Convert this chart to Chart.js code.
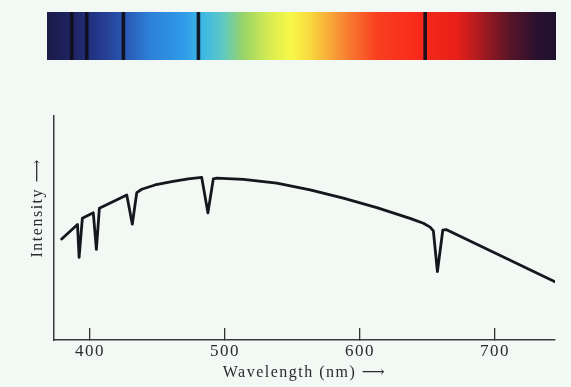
<!DOCTYPE html>
<html>
<head>
<meta charset="utf-8">
<script src="https://cdn.jsdelivr.net/npm/chart.js@4/dist/chart.umd.min.js"></script>
<style>
  html, body { margin: 0; padding: 0; background: #f2f8f4; }
  #wrap { position: relative; width: 571px; height: 387px; overflow: hidden; }
  #main { position: absolute; left: 0; top: 0; }
  #spec { position: absolute; left: 0; top: 0; }
</style>
</head>
<body>
<div id="wrap">
  <canvas id="main" width="571" height="387"></canvas>
  <canvas id="spec" width="571" height="72"></canvas>
</div>
<script>
// ---- data ----
const wavelengths = [379.0, 390.7, 391.9, 394.3, 402.4, 404.7, 406.9, 427.2, 431.3, 434.6, 438.3, 448.1, 460.5, 472.8, 482.7, 487.3, 491.3, 493.9, 513.6, 538.3, 563.0, 587.6, 612.4, 637.0, 646.9, 651.9, 654.3, 657.3, 661.3, 663.7, 744.4];
const intensity   = [45.1, 51.6, 36.9, 54.3, 56.8, 40.5, 58.8, 64.7, 51.7, 65.8, 67.3, 69.2, 70.7, 71.9, 72.6, 56.8, 71.9, 72.3, 71.7, 70.0, 67.0, 63.3, 59.1, 54.3, 52.1, 50.4, 48.7, 30.5, 49.1, 49.3, 26.0];
const xTickValues = [400, 500, 600, 700];
const absorptionLines = [392.0, 403.2, 430.6, 486.7, 656.2];
const spectrumRange = [373.5, 754];
const spectrumStops = [
  [373.5, '#1b1b48'], [395, '#1f2568'], [415, '#243c90'], [432, '#2a58b4'],
  [450, '#2c80d8'], [475, '#2f9ae8'], [490, '#3cb8e4'], [505, '#5ec8c4'],
  [520, '#98d468'], [540, '#d8ec50'], [556, '#f8f848'], [570, '#f8d840'],
  [585, '#f8a838'], [600, '#f87830'], [620, '#f84020'], [650, '#f82a1a'],
  [680, '#e82018'], [700, '#a01a20'], [720, '#581428'], [740, '#2a1030'], [754, '#1e1030']
];

const serif = "'Liberation Serif', 'DejaVu Serif', serif";
const ink = '#2a2a30';

const spacing = {
  id: 'letterSpacing',
  beforeDraw(chart) { chart.ctx.letterSpacing = '1.5px'; }
};

// ---- main line chart ----
new Chart(document.getElementById('main'), {
  type: 'line',
  data: {
    datasets: [{
      data: wavelengths.map((w, i) => ({ x: w, y: intensity[i] })),
      borderColor: '#16161e',
      borderWidth: 2.8,
      borderJoinStyle: 'round',
      borderCapStyle: 'round',
      pointRadius: 0,
      fill: false,
      tension: 0
    }]
  },
  plugins: [spacing],
  options: {
    responsive: false,
    animation: false,
    layout: { padding: { left: 0, right: 16, top: 116, bottom: 0 } },
    plugins: { legend: { display: false }, tooltip: { enabled: false } },
    scales: {
      x: {
        type: 'linear',
        min: 373.3,
        max: 744.4,
        afterBuildTicks: (s) => { s.ticks = xTickValues.map(v => ({ value: v })); },
        afterFit: (s) => { s.height = 47; },
        grid: { drawOnChartArea: false, drawTicks: true, tickLength: -12, color: '#333', lineWidth: 1.3 },
        border: { display: true, color: '#3a3a3a', width: 1.5 },
        ticks: { color: ink, padding: 13, font: { family: serif, size: 17 }, maxRotation: 0 },
        title: {
          display: true,
          text: 'Wavelength (nm) \u27F6',
          color: ink,
          font: { family: serif, size: 16 },
          padding: { top: 0, bottom: 5 }
        }
      },
      y: {
        min: 0,
        max: 100,
        afterFit: (s) => { s.width = 54; },
        grid: { display: false },
        border: { display: true, color: '#3a3a3a', width: 1.5 },
        ticks: { display: false },
        title: {
          display: true,
          text: '\u2003\u2003 Intensity \u27F6',
          color: ink,
          font: { family: serif, size: 16 },
          padding: { top: 28, bottom: 0 }
        }
      }
    }
  }
});

// ---- spectrum strip ----
const spanPad = 1.1;
const specDatasets = [{
  data: [spectrumRange],
  backgroundColor: (c) => {
    const chart = c.chart;
    if (!chart.chartArea) return '#888';
    const xs = chart.scales.x;
    const x0 = xs.getPixelForValue(spectrumRange[0]);
    const x1 = xs.getPixelForValue(spectrumRange[1]);
    const g = chart.ctx.createLinearGradient(x0, 0, x1, 0);
    spectrumStops.forEach(([w, col]) => g.addColorStop((w - spectrumRange[0]) / (spectrumRange[1] - spectrumRange[0]), col));
    return g;
  },
  borderWidth: 0,
  barPercentage: 1,
  categoryPercentage: 1,
  grouped: false,
  order: 2
}].concat(absorptionLines.map(l => ({
  data: [[l - spanPad, l + spanPad]],
  backgroundColor: 'rgba(14,14,26,0.92)',
  borderWidth: 0,
  barPercentage: 1,
  categoryPercentage: 1,
  grouped: false,
  order: 1
})));

new Chart(document.getElementById('spec'), {
  type: 'bar',
  data: { labels: ['spectrum'], datasets: specDatasets },
  options: {
    indexAxis: 'y',
    responsive: false,
    animation: false,
    layout: { padding: { left: 47, right: 15, top: 12, bottom: 12 } },
    plugins: { legend: { display: false }, tooltip: { enabled: false } },
    scales: {
      x: { type: 'linear', min: spectrumRange[0], max: spectrumRange[1], display: false },
      y: { display: false }
    }
  }
});
</script>
</body>
</html>
